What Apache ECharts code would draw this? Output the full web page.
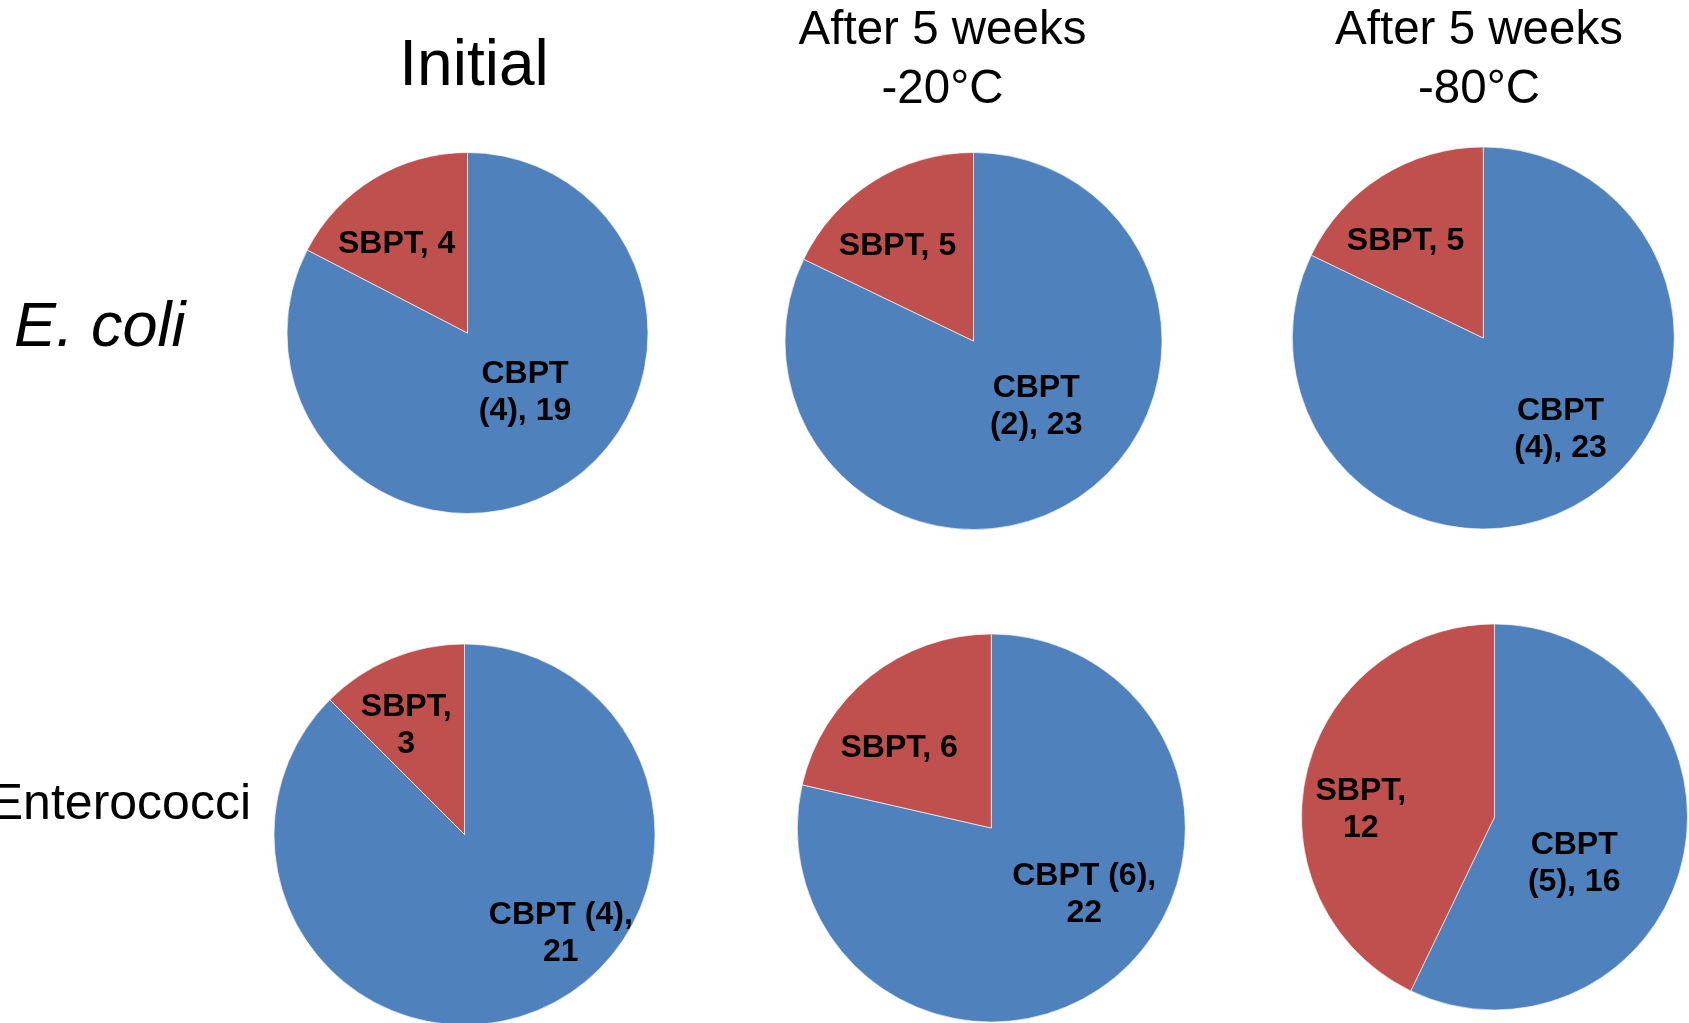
<!DOCTYPE html>
<html>
<head>
<meta charset="utf-8">
<script src="https://cdn.jsdelivr.net/npm/echarts@6/dist/echarts.min.js"></script>
<style>
html, body { margin: 0; padding: 0; background: #ffffff; overflow: hidden; }
#chart { width: 1689px; height: 1023px; }
</style>
</head>
<body>
<div id="chart"></div>
<script>
// ---------- DATA ----------
const panelTitles = ['Initial', 'After 5 weeks\n-20°C', 'After 5 weeks\n-80°C'];
const organisms = ['E. coli', 'Enterococci'];
const categories = ['CBPT', 'SBPT'];
// order: E. coli (Initial, -20, -80), Enterococci (Initial, -20, -80)
const cbptCounts = [19, 23, 23, 21, 22, 16];
const cbptParen  = [4, 2, 4, 4, 6, 5];
const sbptCounts = [4, 5, 5, 3, 6, 12];

// ---------- LAYOUT ----------
const pieCenters = [[467.5, 333], [973.5, 341], [1483.3, 338], [464.5, 834.5], [991.3, 828], [1494.5, 817]];
const pieRadii = [180.5, 188.5, 191, 190.5, 194, 193];
// label centre offsets from pie centre: [CBPT, SBPT]
const labelOffsets = [
  [[57.5, 59.5], [-70.8, -89.2]],
  [[62.7, 65.6], [-76, -94.7]],
  [[77.2, 92], [-77.8, -96.7]],
  [[96.3, 99], [-58.3, -109]],
  [[92.9, 67], [-92.1, -80]],
  [[79.7, 46.3], [-133.7, -7]]
];
// line-break style of the labels (as wrapped in the original)
const cbptWrapAfterName = [true, true, true, false, false, true];
const sbptWrapAfterComma = [false, false, false, true, false, true];

const BLUE = '#4F81BD';
const RED = '#C0504D';
const FONT = '"Liberation Sans", Arial, Helvetica, sans-serif';

const chart = echarts.init(document.getElementById('chart'), null, { renderer: 'canvas' });

function labelText(pieIdx, name) {
  if (name === 'CBPT') {
    const p = '(' + cbptParen[pieIdx] + '), ' + cbptCounts[pieIdx];
    if (cbptWrapAfterName[pieIdx]) return 'CBPT\n' + p;
    return 'CBPT (' + cbptParen[pieIdx] + '),\n' + cbptCounts[pieIdx];
  }
  return sbptWrapAfterComma[pieIdx] ? 'SBPT,\n' + sbptCounts[pieIdx] : 'SBPT, ' + sbptCounts[pieIdx];
}

const series = cbptCounts.map((c, i) => ({
  type: 'pie',
  center: pieCenters[i],
  radius: pieRadii[i],
  startAngle: 90,
  clockwise: true,
  avoidLabelOverlap: false,
  animation: false,
  silent: true,
  data: [
    { name: categories[0], value: cbptCounts[i], itemStyle: { color: BLUE } },
    { name: categories[1], value: sbptCounts[i], itemStyle: { color: RED } }
  ],
  itemStyle: { borderColor: 'rgba(255,255,255,0.8)', borderWidth: 0.8 },
  label: {
    show: true,
    position: 'inside',
    formatter: (p) => labelText(i, p.name),
    fontFamily: FONT,
    fontWeight: 'bold',
    fontSize: 32,
    lineHeight: 37,
    color: '#000000',
    align: 'center'
  },
  labelLine: { show: false },
  labelLayout: (params) => {
    const off = labelOffsets[i][params.dataIndex];
    return {
      x: pieCenters[i][0] + off[0],
      y: pieCenters[i][1] + off[1],
      align: 'center',
      verticalAlign: 'middle'
    };
  },
  emphasis: { disabled: true }
}));

const graphics = [
  { type: 'text', x: 474, y: 67.5, style: { text: panelTitles[0], font: '64px ' + FONT, fill: '#000', align: 'center', verticalAlign: 'middle' } },
  { type: 'text', x: 942.5, y: 60.5, style: { text: panelTitles[1], font: '47.5px ' + FONT, lineHeight: 58.5, fill: '#000', align: 'center', verticalAlign: 'middle' } },
  { type: 'text', x: 1479, y: 60.5, style: { text: panelTitles[2], font: '47.5px ' + FONT, lineHeight: 58.5, fill: '#000', align: 'center', verticalAlign: 'middle' } },
  { type: 'text', x: 14, y: 328, style: { text: organisms[0], font: 'italic 63px ' + FONT, fill: '#000', align: 'left', verticalAlign: 'middle' } },
  { type: 'text', x: 251, y: 805, style: { text: organisms[1], font: '50px ' + FONT, fill: '#000', align: 'right', verticalAlign: 'middle' } }
];

chart.setOption({
  backgroundColor: '#ffffff',
  animation: false,
  series: series,
  graphic: graphics
});
</script>
</body>
</html>
